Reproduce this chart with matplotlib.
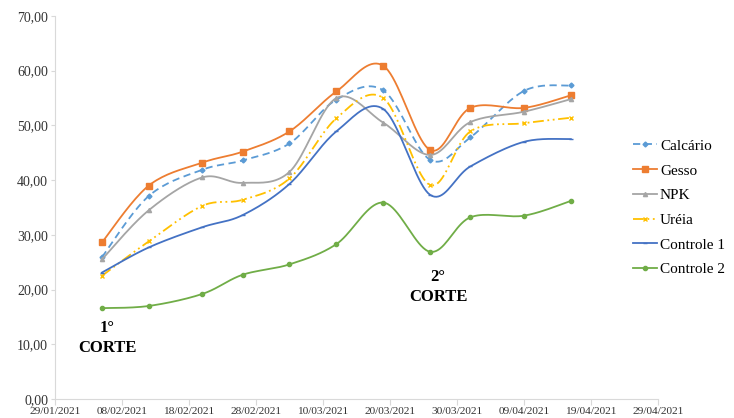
import numpy as np
import matplotlib.pyplot as plt
import matplotlib.dates as mdates
from datetime import datetime

plt.rcParams['font.family'] = ['Liberation Serif', 'DejaVu Serif']

# Datas das coletas
datas = ["05/02/2021", "12/02/2021", "20/02/2021", "26/02/2021", "05/03/2021",
         "12/03/2021", "19/03/2021", "26/03/2021", "01/04/2021", "09/04/2021",
         "16/04/2021"]

calcario = [25.9, 37.1, 41.9, 43.6, 46.7, 54.7, 56.4, 43.7, 47.8, 56.3, 57.3]
gesso = [28.6, 39.0, 43.2, 45.2, 48.9, 56.2, 60.9, 45.5, 53.2, 53.2, 55.5]
npk = [25.5, 34.5, 40.5, 39.5, 41.5, 55.0, 50.5, 44.6, 50.6, 52.5, 54.8]
ureia = [22.5, 28.8, 35.3, 36.4, 40.3, 51.3, 55.0, 39.1, 48.9, 50.4, 51.4]
controle1 = [23.1, 27.7, 31.4, 33.6, 39.3, 48.9, 53.0, 37.3, 42.5, 47.0, 47.5]
controle2 = [16.6, 17.0, 19.2, 22.7, 24.6, 28.3, 35.9, 26.9, 33.2, 33.5, 36.2]

inicio = mdates.date2num(datetime(2021, 1, 29))
fim = mdates.date2num(datetime(2021, 4, 29))
x = np.array([mdates.date2num(datetime.strptime(d, "%d/%m/%Y")) for d in datas])

# escala aproximada em pixels, para suavizar como o Excel
SX = 603.0 / (fim - inicio)
SY = 383.0 / 70.0
N = 20


def suavizar(xs, ys):
    """Catmull-Rom em 2D; retorna curva que passa pelos pontos originais"""
    px = (xs - inicio) * SX
    py = np.array(ys) * SY
    pts = np.column_stack([px, py])
    pts = np.vstack([pts[0], pts, pts[-1]])
    t = np.linspace(0, 1, N, endpoint=False)
    curva = []
    for i in range(1, len(pts) - 2):
        p0, p1, p2, p3 = pts[i - 1], pts[i], pts[i + 1], pts[i + 2]
        for tt in t:
            c = 0.5 * ((2 * p1) + (-p0 + p2) * tt
                       + (2 * p0 - 5 * p1 + 4 * p2 - p3) * tt ** 2
                       + (-p0 + 3 * p1 - 3 * p2 + p3) * tt ** 3)
            curva.append(c)
    curva.append(pts[-2])
    curva = np.array(curva)
    return curva[:, 0] / SX + inicio, curva[:, 1] / SY


series = [
    ("Calcário", calcario, '#5B9BD5', (0, (4, 2.5)), 'D', 2.5),
    ("Gesso", gesso, '#ED7D31', '-', 's', 4),
    ("NPK", npk, '#A5A5A5', '-', '^', 3),
    ("Uréia", ureia, '#FFC000', (0, (6, 2, 1, 2, 1, 2)), 'x', 2.5),
    ("Controle 1", controle1, '#4472C4', '-', '_', 3.5),
    ("Controle 2", controle2, '#70AD47', '-', 'o', 3),
]

fig = plt.figure(figsize=(7.34, 4.18), dpi=100)
ax = fig.add_axes([0.0749, 0.0455, 0.8215, 0.9163])

marcas = list(range(0, (len(datas) - 1) * N + 1, N))
for nome, valores, cor, estilo, marcador, tam in series:
    cx, cy = suavizar(x, valores)
    ax.plot(cx, cy, color=cor, linestyle=estilo, linewidth=1.3,
            marker=marcador, markersize=tam, markevery=marcas,
            markerfacecolor=cor, markeredgecolor=cor, label=nome)

ax.set_xlim(inicio, fim)
ax.set_ylim(0, 70)
ax.set_yticks(np.arange(0, 71, 10))
ax.yaxis.set_major_formatter(lambda v, p: f"{v:.2f}".replace(".", ","))
ax.set_xticks(np.arange(inicio, fim + 1, 10))
ax.xaxis.set_major_formatter(mdates.DateFormatter("%d/%m/%Y"))

for lado in ['top', 'right']:
    ax.spines[lado].set_visible(False)
for lado in ['left', 'bottom']:
    ax.spines[lado].set_color('#d9d9d9')
ax.tick_params(axis='x', colors='#d9d9d9', labelcolor='#333333',
               labelsize=8.2, length=4, pad=2)
ax.tick_params(axis='y', colors='#d9d9d9', labelcolor='#333333',
               labelsize=10, length=3, pad=2)

fig.text(107 / 734, 1 - 338 / 418, "1°\nCORTE", ha='center', va='center',
         fontsize=12, fontweight='bold', linespacing=1.3)
fig.text(438 / 734, 1 - 287 / 418, "2°\nCORTE", ha='center', va='center',
         fontsize=12, fontweight='bold', linespacing=1.3)

fig.legend(loc='upper left', bbox_to_anchor=(0.843, 0.70), frameon=False,
           fontsize=11, handlelength=1.6, handletextpad=0.2, labelspacing=0.72)

fig.savefig("out.png", dpi=100)
